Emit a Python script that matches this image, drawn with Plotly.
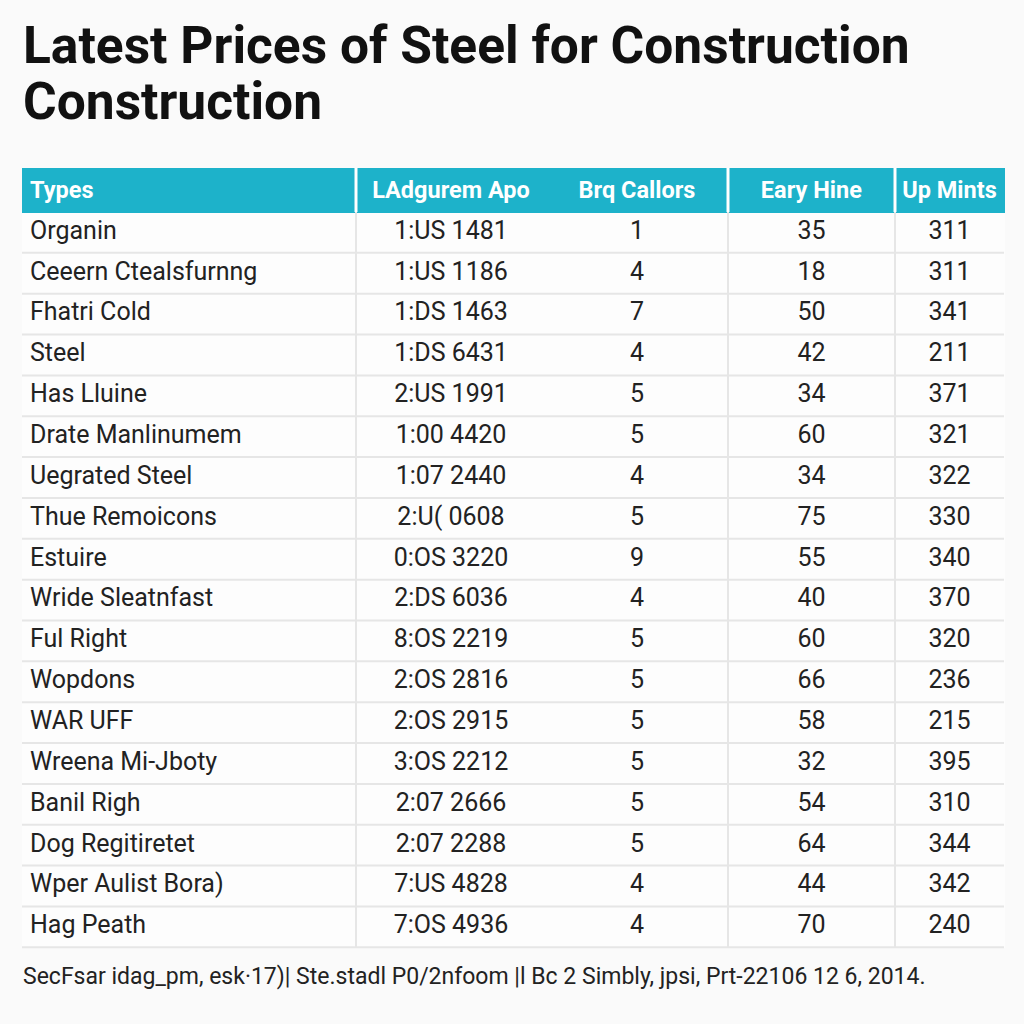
import plotly.graph_objects as go

# ---------------- data ----------------
title_line1 = "Latest Prices of Steel for Construction"
title_line2 = "Construction"
header_labels = ["Types", "LAdgurem Apo", "Brq Callors", "Eary Hine", "Up Mints"]
types = [
    "Organin", "Ceeern Ctealsfurnng", "Fhatri Cold", "Steel", "Has Lluine",
    "Drate Manlinumem", "Uegrated Steel", "Thue Remoicons", "Estuire",
    "Wride Sleatnfast", "Ful Right", "Wopdons", "WAR UFF", "Wreena Mi-Jboty",
    "Banil Righ", "Dog Regitiretet", "Wper Aulist Bora)", "Hag Peath",
]
codes = [
    "1:US 1481", "1:US 1186", "1:DS 1463", "1:DS 6431", "2:US 1991",
    "1:00 4420", "1:07 2440", "2:U( 0608", "0:OS 3220", "2:DS 6036",
    "8:OS 2219", "2:OS 2816", "2:OS 2915", "3:OS 2212", "2:07 2666",
    "2:07 2288", "7:US 4828", "7:OS 4936",
]
brq = [1, 4, 7, 4, 5, 5, 4, 5, 9, 4, 5, 5, 5, 5, 5, 5, 4, 4]
eary = [35, 18, 50, 42, 34, 60, 34, 75, 55, 40, 60, 66, 58, 32, 54, 64, 44, 70]
up = [311, 311, 341, 211, 371, 321, 322, 330, 340, 370, 320, 236, 215, 395, 310, 344, 342, 240]
footer = "SecFsar idag_pm, esk·17)| Ste.stadl P0/2nfoom |l Bc 2 Simbly, jpsi, Prt-22106 12 6, 2014."

# ---------------- layout constants (pixels) ----------------
W = H = 1024
LEFT, RIGHT = 22, 1004
TOP = 168
HEAD_H = 44
ROW_H = 40.85
COL_W = [334, 190, 182, 167, 109]
HEAD_COLOR = "#1db2ca"
GRID = "#e6e6e6"
BG = "#fafafa"

n_rows = len(types)
bottom = TOP + HEAD_H + ROW_H * n_rows


def px_y(y):
    return 1 - y / H


def px_x(x):
    return x / W


fig = go.Figure(go.Table(
    domain=dict(x=[px_x(LEFT), px_x(RIGHT)], y=[px_y(bottom + 2), px_y(TOP)]),
    columnwidth=COL_W,
    header=dict(
        values=["<b>" + h.replace(" ", "\u00a0") + "</b>" for h in header_labels],
        fill_color=HEAD_COLOR,
        line=dict(color=HEAD_COLOR, width=1),
        align=["left", "center", "center", "center", "center"],
        font=dict(family="Roboto", size=23.5, color="white"),
        height=HEAD_H,
    ),
    cells=dict(
        values=[types, codes, brq, eary, up],
        fill_color="#fdfdfd",
        line=dict(color="#fdfdfd", width=1),
        align=["left", "center", "center", "center", "center"],
        font=dict(family="Roboto", size=25, color="#222222"),
        height=ROW_H,
    ),
))

shapes = []
# horizontal row separators
for k in range(1, n_rows + 1):
    y = TOP + HEAD_H + k * ROW_H
    shapes.append(dict(type="line", xref="paper", yref="paper",
                       x0=px_x(LEFT), x1=px_x(RIGHT), y0=px_y(y), y1=px_y(y),
                       line=dict(color=GRID, width=2)))
# vertical separators (between Types | codes+brq | eary | up)
sep_after = [0, 2, 3]
for ci in sep_after:
    x = LEFT + sum(COL_W[:ci + 1])
    shapes.append(dict(type="line", xref="paper", yref="paper",
                       x0=px_x(x), x1=px_x(x), y0=px_y(TOP + HEAD_H), y1=px_y(bottom),
                       line=dict(color=GRID, width=2)))
    shapes.append(dict(type="line", xref="paper", yref="paper",
                       x0=px_x(x), x1=px_x(x), y0=px_y(TOP), y1=px_y(TOP + HEAD_H),
                       line=dict(color="white", width=3)))

annotations = [
    dict(text=f"<b>{title_line1}</b>", x=px_x(21), y=px_y(45), xref="paper", yref="paper",
         xanchor="left", yanchor="middle", showarrow=False,
         font=dict(family="Roboto", size=51.5, color="#111111")),
    dict(text=f"<b>{title_line2}</b>", x=px_x(21), y=px_y(101), xref="paper", yref="paper",
         xanchor="left", yanchor="middle", showarrow=False,
         font=dict(family="Roboto", size=51.5, color="#111111")),
    dict(text=footer, x=px_x(21), y=px_y(976), xref="paper", yref="paper",
         xanchor="left", yanchor="middle", showarrow=False,
         font=dict(family="Roboto", size=23, color="#222222")),
]

fig.update_layout(
    width=W, height=H,
    margin=dict(l=0, r=0, t=0, b=0),
    paper_bgcolor=BG, plot_bgcolor=BG,
    shapes=shapes,
    annotations=annotations,
    showlegend=False,
)

fig.write_html(
    "out.html",
    config={"displayModeBar": False},
    post_script="document.body.style.margin='0px';document.body.style.overflow='hidden';",
)
